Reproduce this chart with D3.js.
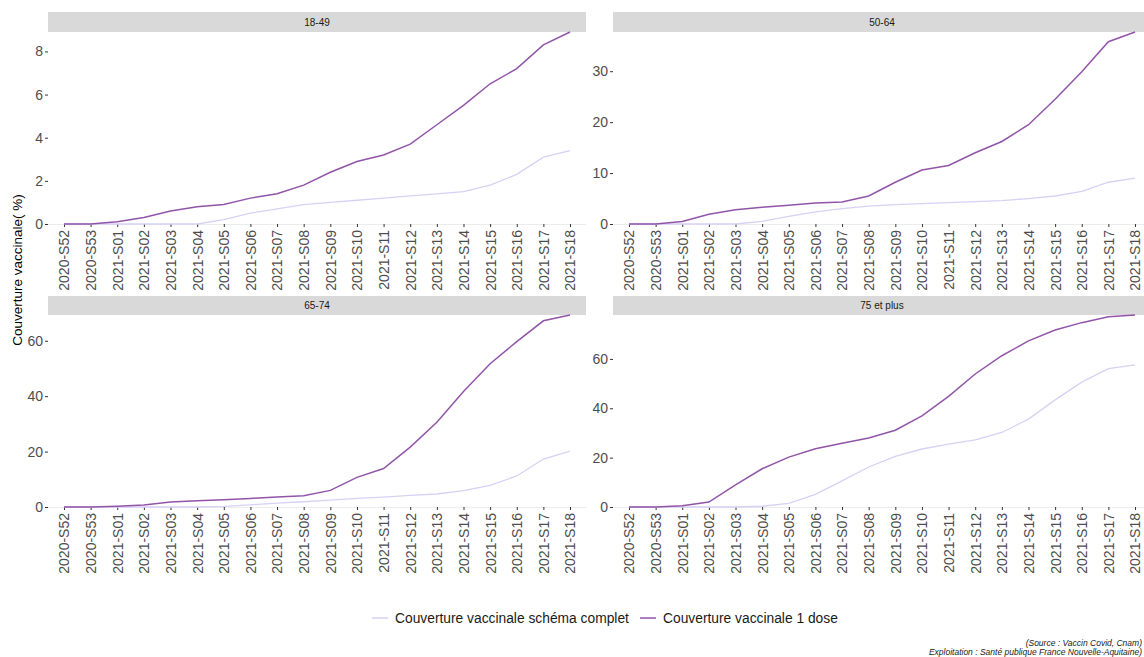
<!DOCTYPE html>
<html>
<head>
<meta charset="utf-8">
<script src="https://cdn.jsdelivr.net/npm/d3@7"></script>
<style>
  html, body { margin: 0; padding: 0; background: #fff; overflow: hidden; }
  svg { display: block; font-family: "Liberation Sans", Arial, sans-serif; }
</style>
</head>
<body>
<svg id="chart" width="1180" height="657"></svg>
<script>
const weeks = ["2020-S52","2020-S53","2021-S01","2021-S02","2021-S03","2021-S04","2021-S05","2021-S06","2021-S07","2021-S08","2021-S09","2021-S10","2021-S11","2021-S12","2021-S13","2021-S14","2021-S15","2021-S16","2021-S17","2021-S18"];
const groups = ["18-49","50-64","65-74","75 et plus"];
const seriesNames = ["Couverture vaccinale schéma complet","Couverture vaccinale 1 dose"];

const dose1_18_49    = [0,0,0.1,0.3,0.6,0.8,0.9,1.2,1.4,1.8,2.4,2.9,3.2,3.7,4.6,5.5,6.5,7.2,8.3,8.9];
const complet_18_49  = [0,0,0,0,0,0,0.2,0.5,0.7,0.9,1.0,1.1,1.2,1.3,1.4,1.5,1.8,2.3,3.1,3.4];
const dose1_50_64    = [0,0,0.5,1.9,2.8,3.3,3.7,4.1,4.3,5.5,8.2,10.6,11.5,14.0,16.2,19.5,24.5,29.9,35.8,37.7];
const complet_50_64  = [0,0,0,0,0,0.5,1.5,2.4,3.0,3.5,3.8,4.0,4.2,4.4,4.6,5.0,5.5,6.4,8.2,9.0];
const dose1_65_74    = [0,0,0.3,0.7,1.8,2.3,2.6,3.1,3.6,4.1,6.0,10.7,13.9,21.6,30.6,41.7,51.7,59.7,67.2,69.3];
const complet_65_74  = [0,0,0,0,0,0,0.2,0.8,1.4,1.9,2.5,3.1,3.6,4.2,4.7,5.9,7.8,11.2,17.3,20.2];
const dose1_75p      = [0,0,0.5,2.0,9.0,15.5,20.2,23.6,25.8,28.0,31.1,36.9,44.8,53.9,61.3,67.3,71.7,74.7,77.1,77.8];
const complet_75p    = [0,0,0,0,0,0.3,1.5,5.1,10.6,16.2,20.5,23.5,25.5,27.2,30.2,35.6,43.4,50.6,56.1,57.6];

const yTicks = [[0,2,4,6,8],[0,10,20,30],[0,20,40,60],[0,20,40,60]];
const completData = [complet_18_49, complet_50_64, complet_65_74, complet_75p];
const dose1Data = [dose1_18_49, dose1_50_64, dose1_65_74, dose1_75p];

const colComplet = "#d9d0f5";
const colDose1 = "#9155a8";

const svg = d3.select("#chart");

const cols = [[48, 586], [613, 1151]];
const rows = [{strip: 12, top: 32, bottom: 224}, {strip: 296, top: 315, bottom: 507}];

groups.forEach((g, i) => {
  const c = cols[i % 2], r = rows[Math.floor(i / 2)];
  const x = d3.scalePoint().domain(weeks).range(c).padding(0.6);
  const ymax = Math.max(d3.max(dose1Data[i]), d3.max(completData[i]));
  const y = d3.scaleLinear().domain([0, ymax]).range([r.bottom, r.top]);

  const gp = svg.append("g");
  gp.append("rect").attr("x", c[0]).attr("y", r.strip).attr("width", c[1] - c[0]).attr("height", r.top - r.strip).attr("fill", "#d9d9d9");
  gp.append("text").attr("x", (c[0] + c[1]) / 2).attr("y", (r.strip + r.top) / 2 + 3.6)
    .attr("text-anchor", "middle").attr("font-size", 10).attr("fill", "#1a1a1a").text(g);

  gp.append("line").attr("x1", c[0]).attr("x2", c[1]).attr("y1", r.bottom + 0.5).attr("y2", r.bottom + 0.5)
    .attr("stroke", "#ececec").attr("stroke-width", 1);

  const ya = gp.append("g").attr("transform", `translate(${c[0]},0)`)
    .call(d3.axisLeft(y).tickValues(yTicks[i]).tickSize(3).tickPadding(2).tickFormat(d3.format("d")));
  ya.select(".domain").remove();
  ya.selectAll(".tick line").attr("stroke", "#333");
  ya.selectAll(".tick text").attr("font-size", 14).attr("fill", "#4d4d4d").attr("font-family", "Liberation Sans, Arial, sans-serif");

  const xa = gp.append("g").attr("transform", `translate(0,${r.bottom})`)
    .call(d3.axisBottom(x).tickSize(3).tickPadding(2));
  xa.select(".domain").remove();
  xa.selectAll(".tick line").attr("stroke", "#333");
  xa.selectAll(".tick text").attr("font-size", 14).attr("fill", "#4d4d4d")
    .attr("font-family", "Liberation Sans, Arial, sans-serif")
    .attr("transform", "rotate(-90)").attr("text-anchor", "end")
    .attr("dy", "0.35em").attr("x", -6).attr("y", 0);

  const line = d3.line().x((d, k) => x(weeks[k])).y(d => y(d));
  gp.append("path").datum(completData[i]).attr("d", line).attr("fill", "none")
    .attr("stroke", colComplet).attr("stroke-width", 1.3);
  gp.append("path").datum(dose1Data[i]).attr("d", line).attr("fill", "none")
    .attr("stroke", colDose1).attr("stroke-width", 1.5);
});

svg.append("text").attr("transform", "translate(22,270) rotate(-90)")
  .attr("text-anchor", "middle").attr("font-size", 13.5).attr("fill", "#000")
  .text("Couverture vaccinale( %)");

const legend = svg.append("g");
const legItems = [{name: seriesNames[0], color: colComplet, x: 372}, {name: seriesNames[1], color: colDose1, x: 640}];
legItems.forEach(it => {
  legend.append("line").attr("x1", it.x).attr("x2", it.x + 16).attr("y1", 618).attr("y2", 618)
    .attr("stroke", it.color).attr("stroke-width", 1.5);
  legend.append("text").attr("x", it.x + 23).attr("y", 623).attr("font-size", 13.8).attr("fill", "#1a1a1a").text(it.name);
});

svg.append("text").attr("x", 1142).attr("y", 646).attr("text-anchor", "end")
  .attr("font-size", 8.5).attr("font-style", "italic").attr("fill", "#1a1a1a")
  .text("(Source : Vaccin Covid, Cnam)");
svg.append("text").attr("x", 1142).attr("y", 655).attr("text-anchor", "end")
  .attr("font-size", 8.5).attr("font-style", "italic").attr("fill", "#1a1a1a")
  .text("Exploitation : Santé publique France Nouvelle-Aquitaine)");
</script>
</body>
</html>
